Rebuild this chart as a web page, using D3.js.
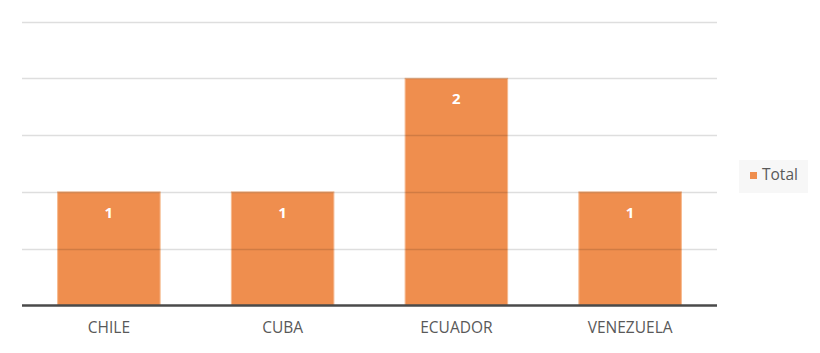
<!DOCTYPE html>
<html>
<head>
<meta charset="utf-8">
<script src="https://cdn.jsdelivr.net/npm/d3@7"></script>
<style>
  body { margin: 0; background: #fff; }
  svg { display: block; font-family: "Open Sans", "Noto Sans", sans-serif; }
</style>
</head>
<body>
<svg id="chart" width="820" height="353"></svg>
<script>
const categories = ["CHILE", "CUBA", "ECUADOR", "VENEZUELA"];
const totals = [1, 1, 2, 1];
const gridTicks = [0.5, 1, 1.5, 2, 2.5];
const seriesName = "Total";

const svg = d3.select("#chart");
const plot = { left: 22, right: 717, top: 21.5, bottom: 305.5 };

const x = d3.scaleBand()
  .domain(categories)
  .range([plot.left, plot.right])
  .paddingInner(0.41)
  .paddingOuter(0.205);

const y = d3.scaleLinear()
  .domain([0, 2.5])
  .range([plot.bottom, plot.top]);

// bars
const bars = svg.append("g");
bars.selectAll("rect")
  .data(totals)
  .join("rect")
  .attr("x", (d, i) => x(categories[i]))
  .attr("y", d => y(d))
  .attr("width", x.bandwidth())
  .attr("height", d => y(0) - y(d))
  .attr("fill", "#EF8E4E")
  .attr("stroke", "#F6B98E")
  .attr("stroke-width", 1);

// gridlines drawn over bars, faint
svg.append("g")
  .selectAll("line")
  .data(gridTicks)
  .join("line")
  .attr("x1", plot.left)
  .attr("x2", plot.right)
  .attr("y1", d => Math.round(y(d)) + 0.5)
  .attr("y2", d => Math.round(y(d)) + 0.5)
  .attr("stroke", "#000")
  .attr("stroke-opacity", 0.13)
  .attr("stroke-width", 1.5);

// baseline
svg.append("line")
  .attr("x1", plot.left)
  .attr("x2", plot.right)
  .attr("y1", y(0))
  .attr("y2", y(0))
  .attr("stroke", "#4a4a4a")
  .attr("stroke-width", 2.5);

// data labels
bars.selectAll("text")
  .data(totals)
  .join("text")
  .attr("x", (d, i) => x(categories[i]) + x.bandwidth() / 2)
  .attr("y", d => y(d) + 22)
  .attr("text-anchor", "middle")
  .attr("dominant-baseline", "middle")
  .attr("fill", "#fff")
  .attr("font-weight", "bold")
  .attr("font-size", 15)
  .text(d => d);

// category labels
const xAxis = d3.axisBottom(x).tickSize(0).tickPadding(16);
const gx = svg.append("g")
  .attr("transform", `translate(0,${plot.bottom})`)
  .call(xAxis);
gx.select(".domain").remove();
gx.selectAll("text")
  .attr("fill", "#595959")
  .attr("font-size", 15.5)
  .attr("font-family", "'Open Sans', sans-serif");

// legend
const legend = svg.append("g").attr("transform", "translate(739,160)");
legend.append("rect")
  .attr("width", 69).attr("height", 33)
  .attr("fill", "#f7f7f7");
legend.append("rect")
  .attr("x", 11).attr("y", 12)
  .attr("width", 7).attr("height", 7)
  .attr("fill", "#EF8E4E");
legend.append("text")
  .attr("x", 23).attr("y", 16)
  .attr("dominant-baseline", "middle")
  .attr("fill", "#595959")
  .attr("font-size", 15.5)
  .text(seriesName);
</script>
</body>
</html>
